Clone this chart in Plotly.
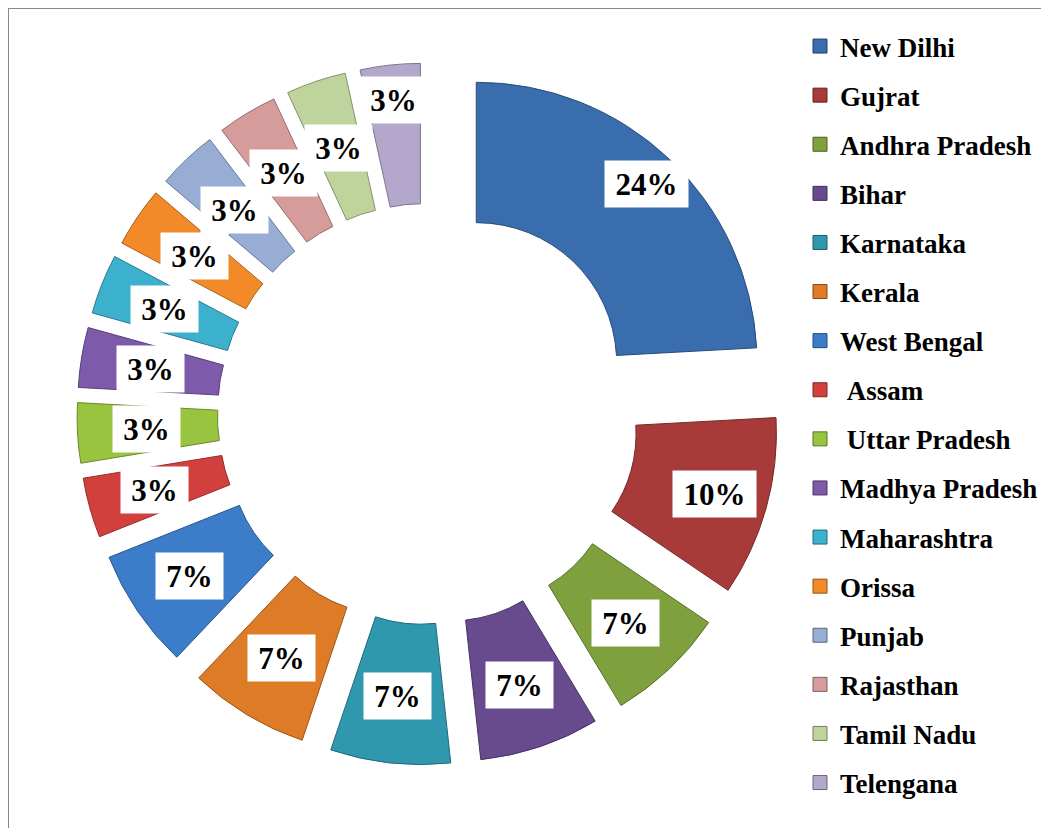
import math
import plotly.graph_objects as go

# ---------------- data ----------------
states = ["New Dilhi", "Gujrat", "Andhra Pradesh", "Bihar", "Karnataka", "Kerala",
          "West Bengal", " Assam", " Uttar Pradesh", "Madhya Pradesh", "Maharashtra",
          "Orissa", "Punjab", "Rajasthan", "Tamil Nadu", "Telengana"]
counts = [7, 3, 2, 2, 2, 2, 2, 1, 1, 1, 1, 1, 1, 1, 1, 1]

# ---------------- style ----------------
colors = ["#3A6DAE", "#A83B39", "#7EA13D", "#684A8E", "#2F98AF", "#DD7B27",
          "#3C7DC9", "#D2403D", "#98C440", "#7E5BAA", "#3CB1CD", "#F28A2A",
          "#97ADD3", "#D69C9B", "#BFD39C", "#B4A7CC"]
label_radius = [0.88, 0.81, 0.775, 0.77, 0.76, 0.765, 0.775, 0.76, 0.755, 0.75,
                0.76, 0.755, 0.75, 0.75, 0.75, 0.875]

W, H = 1041, 820          # page body has an 8px margin
PULL = 0.25
HOLE = 0.5
DOM_X = [69 / W, 771 / W]
DOM_Y = [63 / H, 765 / H]
FONT = "Liberation Serif"


def darker(hexc, f=0.7):
    h = hexc.lstrip("#")
    r, g, b = (int(h[i:i + 2], 16) for i in (0, 2, 4))
    return "rgb(%d,%d,%d)" % (r * f, g * f, b * f)


fig = go.Figure()

fig.add_trace(go.Pie(
    labels=states, values=counts, sort=False, direction="clockwise", rotation=0,
    hole=HOLE, pull=[PULL] * len(counts), textinfo="none", showlegend=False,
    marker=dict(colors=colors, line=dict(color=[darker(c) for c in colors], width=1)),
    domain=dict(x=DOM_X, y=DOM_Y),
))

# legend entries (one per state, own group so spacing can be controlled)
for name, c in zip(states, colors):
    shown = "\u00a0" + name[1:] if name.startswith(" ") else name
    fig.add_trace(go.Scatter(
        x=[None], y=[None], mode="markers", name=shown,
        legendgroup=name, showlegend=True,
        marker=dict(symbol="square", size=14, color=c, line=dict(color=darker(c, 0.6), width=1)),
    ))

# percentage labels in white boxes, placed from the pie geometry
total = sum(counts)
dom_w = W * (DOM_X[1] - DOM_X[0])
dom_h = H * (DOM_Y[1] - DOM_Y[0])
r = min(dom_w, dom_h) / 2 / (1 + PULL)
cx = W * (DOM_X[0] + DOM_X[1]) / 2
cy = H * (DOM_Y[0] + DOM_Y[1]) / 2
cum = 0
for v, lr in zip(counts, label_radius):
    mid = (cum + v / 2) / total * 2 * math.pi
    cum += v
    dist = r * (PULL + lr)
    px = cx + dist * math.sin(mid)
    py = cy + dist * math.cos(mid)
    txt = "%d%%" % round(v / total * 100)
    fig.add_annotation(
        x=px / W, y=py / H, xref="paper", yref="paper", text=txt, showarrow=False,
        font=dict(family=FONT, size=31, color="black", weight="bold"),
        bgcolor="white", width=16 * len(txt) + 33, height=44, align="center",
        xanchor="center", yanchor="middle",
    )

fig.add_shape(type="rect", xref="paper", yref="paper",
              x0=0, x1=1.02, y0=-0.02, y1=1,
              line=dict(color="#888888", width=2), fillcolor="rgba(0,0,0,0)")

fig.update_layout(
    width=W, height=H,
    margin=dict(l=0, r=0, t=0, b=0),
    paper_bgcolor="white", plot_bgcolor="white",
    xaxis=dict(visible=False), yaxis=dict(visible=False),
    legend=dict(x=792 / W, y=1 - 14 / H, xanchor="left", yanchor="top",
                traceorder="grouped", tracegroupgap=11,
                font=dict(family=FONT, size=27, color="black", weight="bold"),
                bgcolor="rgba(0,0,0,0)"),
)

fig.write_html("out.html")
